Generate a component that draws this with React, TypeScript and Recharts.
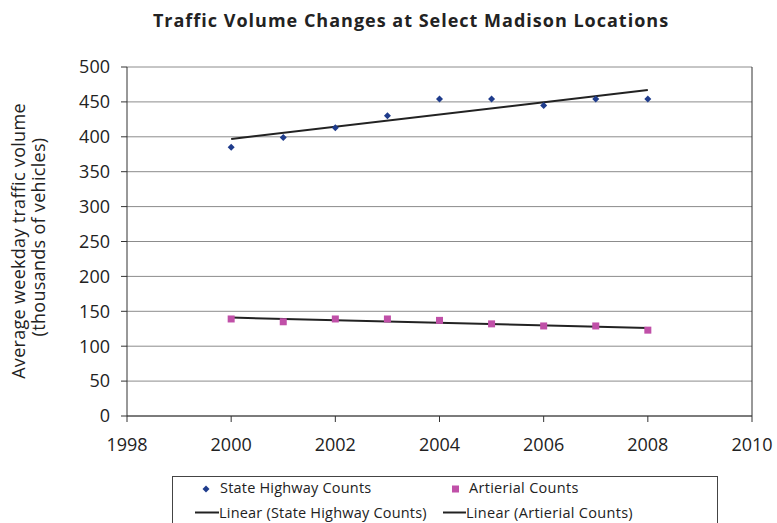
import React from 'react';
import { ComposedChart, Scatter, XAxis, YAxis, CartesianGrid, ReferenceLine } from 'recharts';

const years = [2000, 2001, 2002, 2003, 2004, 2005, 2006, 2007, 2008];
const highwayCounts = [385, 399, 413, 430, 454, 454, 445, 454, 454];
const arterialCounts = [139, 135, 139, 139, 137, 132, 129, 129, 123];
const trendYears = [2000, 2008];
const highwayTrend = [397, 467];
const arterialTrend = [141, 126];
const xTicks = [1998, 2000, 2002, 2004, 2006, 2008, 2010];
const yTicks = [0, 50, 100, 150, 200, 250, 300, 350, 400, 450, 500];

const highwayData = years.map((x, i) => ({ x, y: highwayCounts[i] }));
const arterialData = years.map((x, i) => ({ x, y: arterialCounts[i] }));
const highwayTrendData = trendYears.map((x, i) => ({ x, y: highwayTrend[i] }));
const arterialTrendData = trendYears.map((x, i) => ({ x, y: arterialTrend[i] }));

const FONT = '"Open Sans", sans-serif';
const BLUE = '#1f3c8c';
const PINK = '#c050a8';
const TEXT = '#222';

const Diamond = (props: any) => {
  const { cx, cy } = props;
  if (cx == null || cy == null) return <g />;
  const r = 3.5;
  return <polygon points={`${cx},${cy - r} ${cx + r},${cy} ${cx},${cy + r} ${cx - r},${cy}`} fill={BLUE} />;
};

const Square = (props: any) => {
  const { cx, cy } = props;
  if (cx == null || cy == null) return <g />;
  const s = 7;
  return <rect x={cx - s / 2} y={cy - s / 2} width={s} height={s} fill={PINK} />;
};

const NoShape = () => <g />;

export default function App() {
  return (
    <div style={{ position: 'absolute', left: 0, top: 0, width: 777, height: 523, background: '#fff', overflow: 'hidden', fontFamily: FONT }}>
      <ComposedChart width={777} height={523} margin={{ top: 67, right: 25, left: 0, bottom: 67 }}>
        <CartesianGrid horizontal vertical={false} stroke="#8c8c8c" />
        <XAxis
          type="number"
          dataKey="x"
          domain={[1998, 2010]}
          ticks={xTicks}
          allowDataOverflow
          height={40}
          tickSize={6}
          tickMargin={16}
          tick={{ fill: TEXT, fontSize: 18, fontFamily: FONT }}
          axisLine={{ stroke: '#333' }}
          tickLine={{ stroke: '#333' }}
        />
        <YAxis
          type="number"
          dataKey="y"
          domain={[0, 500]}
          ticks={yTicks}
          allowDataOverflow
          width={127}
          tickSize={6}
          tickMargin={11}
          tick={{ fill: TEXT, fontSize: 18, fontFamily: FONT }}
          axisLine={{ stroke: '#333' }}
          tickLine={{ stroke: '#333' }}
        />
        <ReferenceLine x={2010} stroke="#333" />
        <Scatter data={highwayTrendData} line={{ stroke: '#222', strokeWidth: 2 }} shape={NoShape} isAnimationActive={false} />
        <Scatter data={arterialTrendData} line={{ stroke: '#222', strokeWidth: 2 }} shape={NoShape} isAnimationActive={false} />
        <Scatter data={highwayData} shape={Diamond} isAnimationActive={false} />
        <Scatter data={arterialData} shape={Square} isAnimationActive={false} />
      </ComposedChart>

      <svg width={777} height={523} style={{ position: 'absolute', left: 0, top: 0, pointerEvents: 'none' }}>
        <text x={411} y={27} textAnchor="middle" fontFamily={FONT} fontWeight="bold" fontSize={18} letterSpacing={1} fill={TEXT}>
          Traffic Volume Changes at Select Madison Locations
        </text>
        <text transform="translate(25,241) rotate(-90)" textAnchor="middle" fontFamily={FONT} fontSize={18} letterSpacing={0.3} fill={TEXT}>Average weekday traffic volume</text>
        <text transform="translate(45,237) rotate(-90)" textAnchor="middle" fontFamily={FONT} fontSize={18} letterSpacing={0.3} fill={TEXT}>(thousands of vehicles)</text>
        <rect x={172.5} y={476.5} width={545} height={60} fill="none" stroke="#444" />
        <polygon points="206,485.5 209.5,489 206,492.5 202.5,489" fill={BLUE} />
        <text x={220} y={493} fontFamily={FONT} fontSize={14.5} letterSpacing={0.2} fill={TEXT}>State Highway Counts</text>
        <rect x={452} y={485.5} width={7} height={7} fill={PINK} />
        <text x={469} y={493} fontFamily={FONT} fontSize={14.5} letterSpacing={0.3} fill={TEXT}>Artierial Counts</text>
        <line x1={195} x2={219} y1={512.5} y2={512.5} stroke="#222" strokeWidth={2} />
        <text x={219} y={518} fontFamily={FONT} fontSize={14.5} letterSpacing={0.2} fill={TEXT}>Linear (State Highway Counts)</text>
        <line x1={443} x2={466} y1={512.5} y2={512.5} stroke="#222" strokeWidth={2} />
        <text x={466} y={518} fontFamily={FONT} fontSize={14.5} letterSpacing={0.3} fill={TEXT}>Linear (Artierial Counts)</text>
      </svg>
    </div>
  );
}
